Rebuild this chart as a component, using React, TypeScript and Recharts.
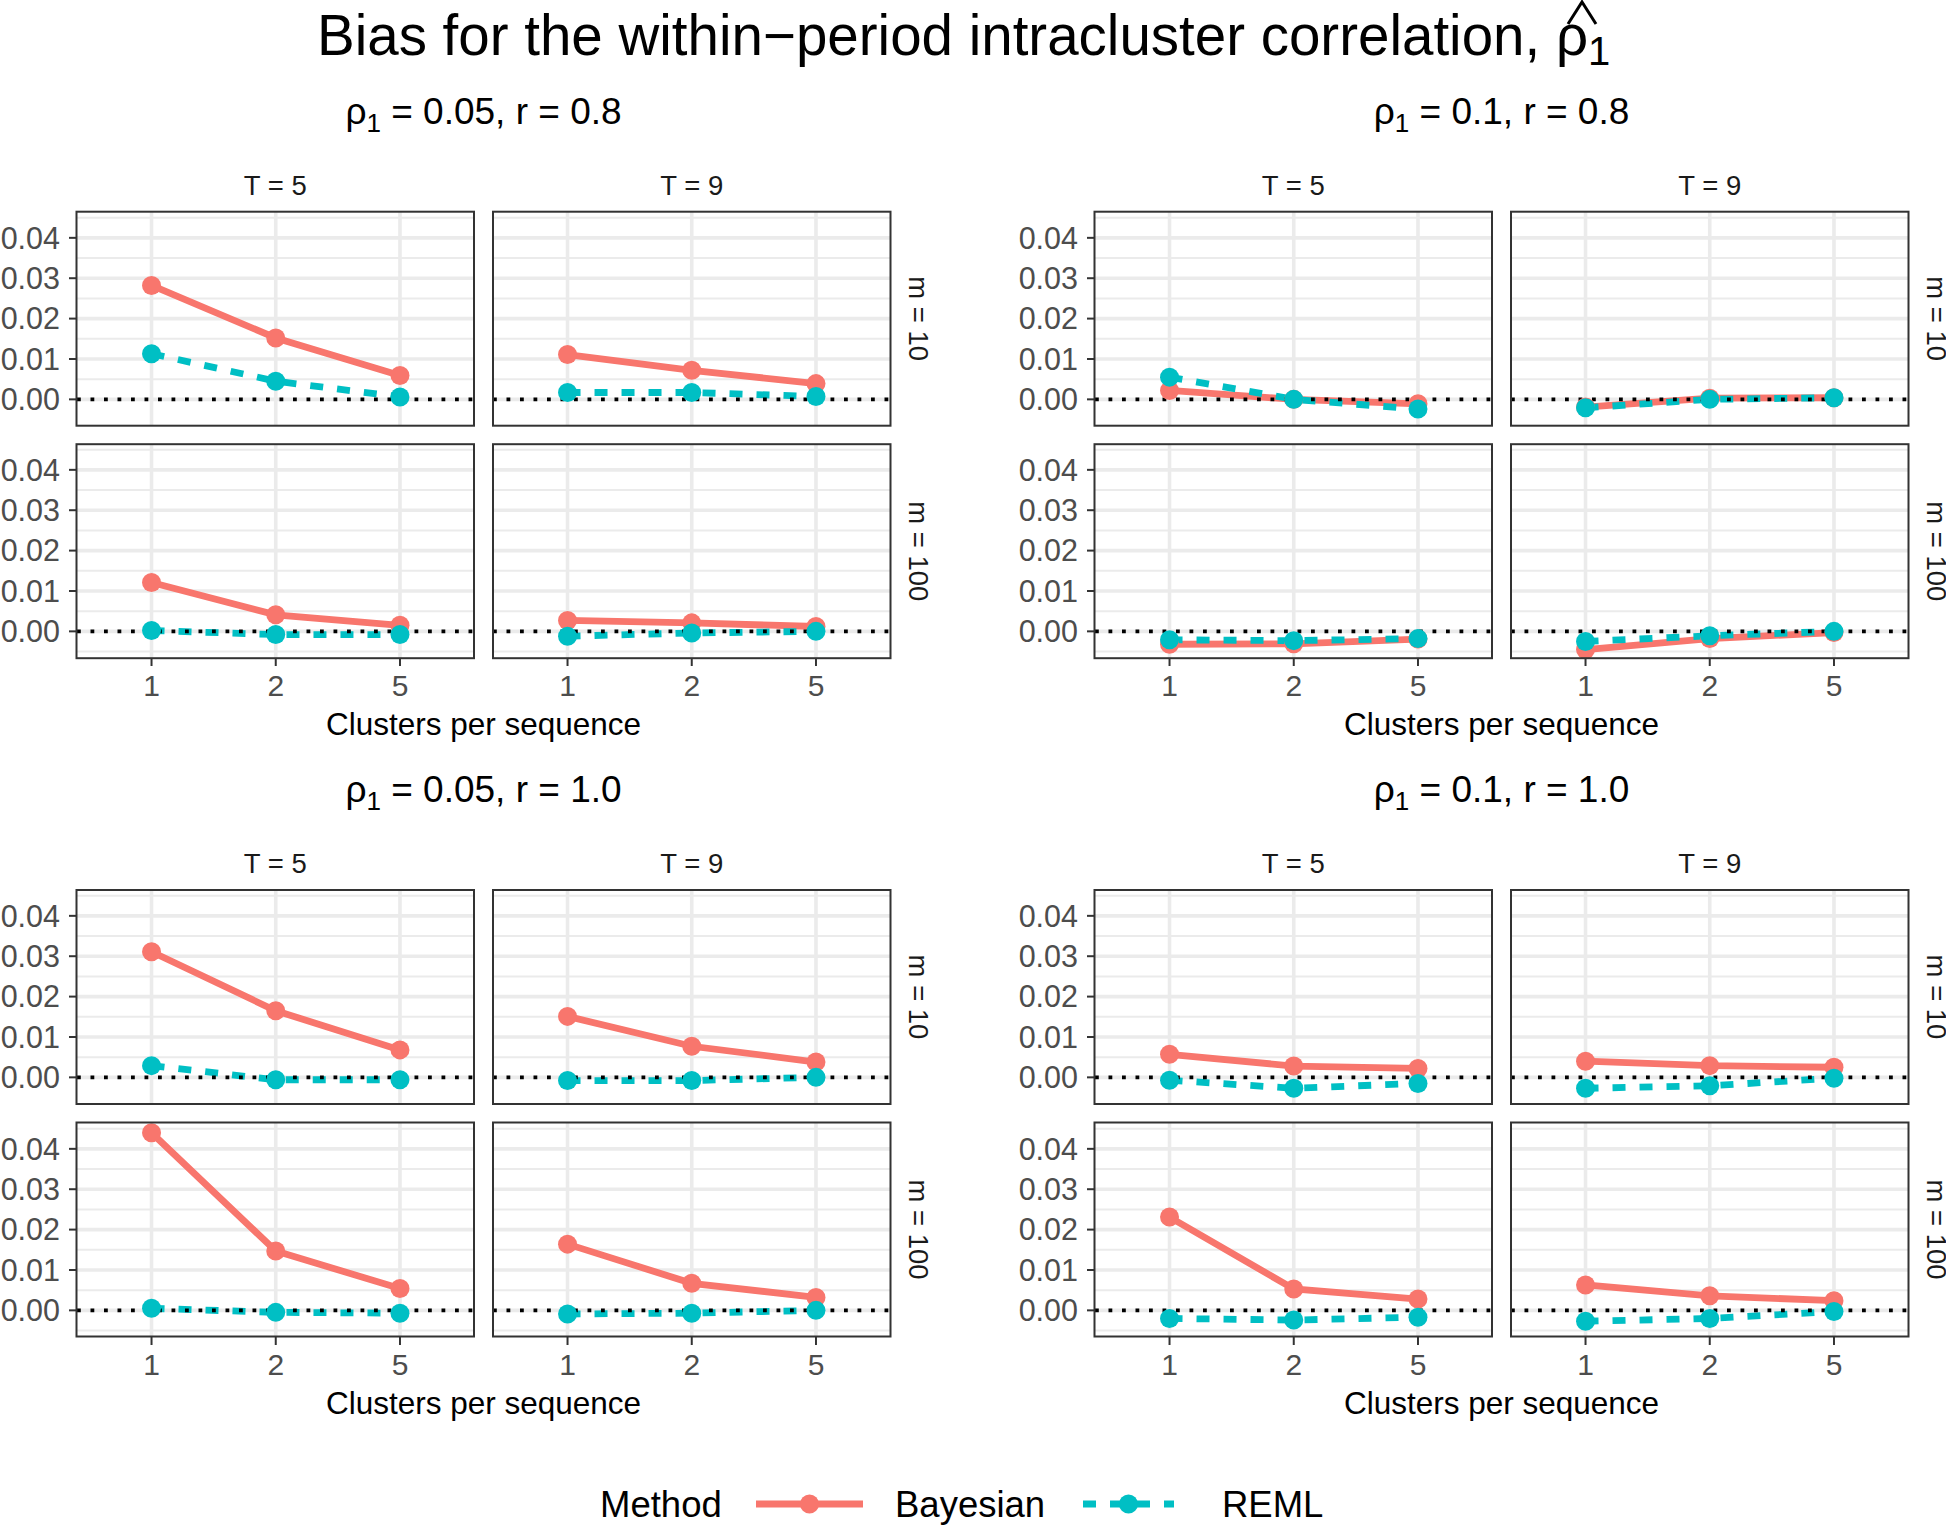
import React from 'react';
import { LineChart, Line, XAxis, YAxis, CartesianGrid, ReferenceLine } from 'recharts';

// ---------- categories / ticks ----------
const clusterLabels = ['1', '2', '5'];
const clusterPos = [1, 2, 3];
const yTicks = [0, 0.01, 0.02, 0.03, 0.04];
const yMinor = [-0.005, 0.005, 0.015, 0.025, 0.035, 0.045];
const periodLabels = ['T = 5', 'T = 9'];
const sizeLabels = ['m = 10', 'm = 100'];
const methodLabels = ['Bayesian', 'REML'];
const rhoLabels = ['0.05', '0.1', '0.05', '0.1'];
const rLabels = ['0.8', '0.8', '1.0', '1.0'];

// ---------- rho1 = 0.05, r = 0.8 ----------
const bayA_T5_m10 = [0.0282, 0.0152, 0.0059];
const remA_T5_m10 = [0.0113, 0.0045, 0.0006];
const bayA_T9_m10 = [0.0111, 0.0072, 0.0039];
const remA_T9_m10 = [0.0017, 0.0017, 0.0007];
const bayA_T5_m100 = [0.0121, 0.0041, 0.0015];
const remA_T5_m100 = [0.0002, -0.0008, -0.0008];
const bayA_T9_m100 = [0.0027, 0.0021, 0.0012];
const remA_T9_m100 = [-0.0012, -0.0004, 0.0];

// ---------- rho1 = 0.1, r = 0.8 ----------
const bayB_T5_m10 = [0.0022, 0.0, -0.0011];
const remB_T5_m10 = [0.0055, 0.0, -0.0024];
const bayB_T9_m10 = [-0.0019, 0.0003, 0.0004];
const remB_T9_m10 = [-0.0021, 0.0, 0.0004];
const bayB_T5_m100 = [-0.0032, -0.0031, -0.0019];
const remB_T5_m100 = [-0.0021, -0.0023, -0.0018];
const bayB_T9_m100 = [-0.0045, -0.0018, -0.0003];
const remB_T9_m100 = [-0.0025, -0.0011, 0.0];

// ---------- rho1 = 0.05, r = 1.0 ----------
const bayC_T5_m10 = [0.0311, 0.0165, 0.0068];
const remC_T5_m10 = [0.0029, -0.0006, -0.0006];
const bayC_T9_m10 = [0.0151, 0.0077, 0.0038];
const remC_T9_m10 = [-0.0008, -0.0008, 0.0];
const bayC_T5_m100 = [0.044, 0.0147, 0.0054];
const remC_T5_m100 = [0.0005, -0.0005, -0.0007];
const bayC_T9_m100 = [0.0164, 0.0067, 0.0032];
const remC_T9_m100 = [-0.0009, -0.0007, 0.0];

// ---------- rho1 = 0.1, r = 1.0 ----------
const bayD_T5_m10 = [0.0057, 0.0028, 0.0022];
const remD_T5_m10 = [-0.0007, -0.0027, -0.0015];
const bayD_T9_m10 = [0.004, 0.0029, 0.0025];
const remD_T9_m10 = [-0.0027, -0.0021, -0.0002];
const bayD_T5_m100 = [0.0231, 0.0053, 0.0028];
const remD_T5_m100 = [-0.002, -0.0024, -0.0017];
const bayD_T9_m100 = [0.0063, 0.0036, 0.0024];
const remD_T9_m100 = [-0.0027, -0.002, -0.0003];

// grouped by scenario -> [row m][col T]
const bayesian = [
  [[bayA_T5_m10, bayA_T9_m10], [bayA_T5_m100, bayA_T9_m100]],
  [[bayB_T5_m10, bayB_T9_m10], [bayB_T5_m100, bayB_T9_m100]],
  [[bayC_T5_m10, bayC_T9_m10], [bayC_T5_m100, bayC_T9_m100]],
  [[bayD_T5_m10, bayD_T9_m10], [bayD_T5_m100, bayD_T9_m100]],
];
const reml = [
  [[remA_T5_m10, remA_T9_m10], [remA_T5_m100, remA_T9_m100]],
  [[remB_T5_m10, remB_T9_m10], [remB_T5_m100, remB_T9_m100]],
  [[remC_T5_m10, remC_T9_m10], [remC_T5_m100, remC_T9_m100]],
  [[remD_T5_m10, remD_T9_m10], [remD_T5_m100, remD_T9_m100]],
];

// ---------- layout ----------
const FONT = '"Liberation Sans", Arial, Helvetica, sans-serif';
const RED = '#F8766D';
const CYAN = '#00BFC4';
const Y_DOMAIN = [-0.0066, 0.0464];
const PW = 397.5;
const PH = 214;
const BLOCK_X = [76.5, 1094.5];
const BLOCK_Y = [211.7, 890];
const COL_OFF = [0, 416.5];
const ROW_OFF = [0, 232.5];
const DOT_R = 9.5;

type PanelProps = {
  x: number;
  y: number;
  bay: number[];
  rem: number[];
  showY: boolean;
  showX: boolean;
};

function Panel({ x, y, bay, rem, showY, showX }: PanelProps) {
  const yw = showY ? 90 : 0;
  const xh = showX ? 50 : 0;
  const mt = 12;
  const mr = 12;
  const data = clusterPos.map((p, i) => ({ pos: p, bayes: bay[i], reml: rem[i] }));
  return (
    <div style={{ position: 'absolute', left: x - yw, top: y - mt }}>
      <LineChart
        width={yw + PW + mr}
        height={mt + PH + xh}
        data={data}
        margin={{ top: mt, right: mr, bottom: 0, left: 0 }}
      >
        <CartesianGrid
          horizontalValues={yMinor}
          vertical={false}
          stroke="#ebebeb"
          strokeWidth={2}
        />
        <CartesianGrid
          horizontalValues={yTicks}
          verticalValues={clusterPos}
          stroke="#ebebeb"
          strokeWidth={3.6}
        />
        <XAxis
          type="number"
          dataKey="pos"
          domain={[0.4, 3.6]}
          ticks={clusterPos}
          allowDataOverflow
          hide={!showX}
          height={xh}
          axisLine={false}
          tickSize={8}
          tickMargin={9}
          tickLine={{ stroke: '#333333', strokeWidth: 2 }}
          tick={{ fill: '#4d4d4d', fontSize: 30, fontFamily: FONT }}
          tickFormatter={(v: number) => clusterLabels[v - 1]}
        />
        <YAxis
          type="number"
          domain={Y_DOMAIN}
          ticks={yTicks}
          allowDataOverflow
          hide={!showY}
          width={yw}
          axisLine={false}
          tickSize={8}
          tickMargin={9}
          tickLine={{ stroke: '#333333', strokeWidth: 2 }}
          tick={{ fill: '#4d4d4d', fontSize: 30.5, fontFamily: FONT }}
          tickFormatter={(v: number) => v.toFixed(2)}
        />
        <Line
          type="linear"
          dataKey="bayes"
          name={methodLabels[0]}
          stroke={RED}
          strokeWidth={6.8}
          dot={{ r: DOT_R, fill: RED, stroke: RED, strokeWidth: 0 }}
          activeDot={false}
          isAnimationActive={false}
        />
        <Line
          type="linear"
          dataKey="reml"
          name={methodLabels[1]}
          stroke={CYAN}
          strokeWidth={6.8}
          strokeDasharray="13 14"
          dot={{ r: DOT_R, fill: CYAN, stroke: CYAN, strokeWidth: 0, strokeDasharray: '' }}
          activeDot={false}
          isAnimationActive={false}
        />
        <ReferenceLine y={0} stroke="#000000" strokeWidth={3.8} strokeDasharray="3.8 9.7" />
      </LineChart>
    </div>
  );
}

export default function App() {
  const panels: React.ReactNode[] = [];
  const overlay: React.ReactNode[] = [];
  for (let s = 0; s < 4; s++) {
    const bx = BLOCK_X[s % 2];
    const by = BLOCK_Y[Math.floor(s / 2)];
    const blockCenter = bx + (COL_OFF[1] + PW) / 2;
    // subtitle
    overlay.push(
      <text key={`sub${s}`} x={blockCenter} y={124} dy={by - BLOCK_Y[0]} textAnchor="middle" fontSize={37} fill="#000">
        ρ<tspan fontSize={26} dy={8}>1</tspan>
        <tspan dy={-8}>{` = ${rhoLabels[s]}, r = ${rLabels[s]}`}</tspan>
      </text>
    );
    // x axis title
    overlay.push(
      <text key={`xt${s}`} x={blockCenter} y={by + 523.5} textAnchor="middle" fontSize={31.5} fill="#000">
        Clusters per sequence
      </text>
    );
    for (let c = 0; c < 2; c++) {
      const px = bx + COL_OFF[c];
      overlay.push(
        <text key={`st${s}-${c}`} x={px + PW / 2} y={by - 16.7} textAnchor="middle" fontSize={27.5} fill="#1a1a1a">
          {periodLabels[c]}
        </text>
      );
    }
    for (let r = 0; r < 2; r++) {
      const py = by + ROW_OFF[r];
      overlay.push(
        <text
          key={`sr${s}-${r}`}
          transform={`translate(${bx + COL_OFF[1] + PW + 18}, ${py + PH / 2}) rotate(90)`}
          textAnchor="middle"
          fontSize={27.5}
          fill="#1a1a1a"
        >
          {sizeLabels[r]}
        </text>
      );
      for (let c = 0; c < 2; c++) {
        const px = bx + COL_OFF[c];
        panels.push(
          <Panel
            key={`p${s}-${r}-${c}`}
            x={px}
            y={py}
            bay={bayesian[s][r][c]}
            rem={reml[s][r][c]}
            showY={c === 0}
            showX={r === 1}
          />
        );
        overlay.push(
          <rect key={`b${s}-${r}-${c}`} x={px} y={py} width={PW} height={PH} fill="none" stroke="#333333" strokeWidth={2} />
        );
      }
    }
  }

  return (
    <div
      style={{
        position: 'absolute',
        left: 0,
        top: 0,
        width: 1946,
        height: 1526,
        background: '#ffffff',
        fontFamily: FONT,
        overflow: 'hidden',
      }}
    >
      {panels}
      <svg
        width={1946}
        height={1526}
        style={{ position: 'absolute', left: 0, top: 0, pointerEvents: 'none', fontFamily: FONT }}
      >
        <text x={317} y={55} fontSize={56.5} fill="#000">
          Bias for the within−period intracluster correlation, ρ<tspan fontSize={40} dy={10}>1</tspan>
        </text>
        <polyline points="1568,24 1582,2 1596,24" fill="none" stroke="#000" strokeWidth={3} />
        {overlay}
        {/* legend */}
        <text x={600} y={1517} fontSize={36.5} fill="#000">Method</text>
        <line x1={756} y1={1504} x2={863} y2={1504} stroke={RED} strokeWidth={7} />
        <circle cx={809.5} cy={1504} r={DOT_R} fill={RED} />
        <text x={895} y={1517} fontSize={36.5} fill="#000">{methodLabels[0]}</text>
        <line x1={1083} y1={1504} x2={1174} y2={1504} stroke={CYAN} strokeWidth={7} strokeDasharray="13 14" />
        <circle cx={1128.5} cy={1504} r={DOT_R} fill={CYAN} />
        <text x={1222} y={1517} fontSize={36.5} fill="#000">{methodLabels[1]}</text>
      </svg>
    </div>
  );
}
